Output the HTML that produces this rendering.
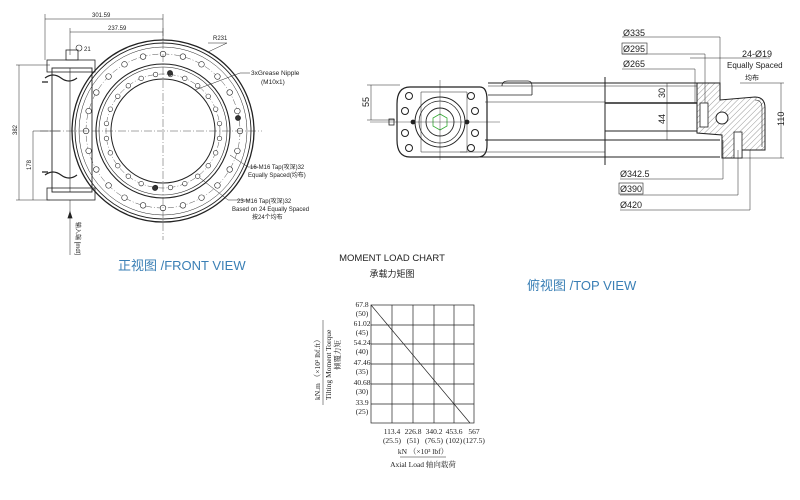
<!DOCTYPE html>
<html><head><meta charset="utf-8"><style>
html,body{margin:0;padding:0;background:#fff;}
svg{display:block;}
text{font-family:"Liberation Sans","Noto Sans CJK SC",sans-serif;fill:#222;}
text.s,.s text{font-family:"Liberation Serif","Noto Serif CJK SC",serif;}
.b{fill:#3a7fb5;}
</style></head><body>
<svg id="g" width="800" height="500" viewBox="0 0 800 500" xmlns="http://www.w3.org/2000/svg" stroke="#222" fill="none" stroke-width="0.8">
<g>
  <line x1="45" y1="14" x2="45" y2="60" stroke-width="0.5"/>
  <line x1="70" y1="28" x2="70" y2="55" stroke-width="0.5"/>
  <line x1="163" y1="14" x2="163" y2="40" stroke-width="0.5"/>
  <line x1="45" y1="19" x2="163" y2="19" stroke-width="0.5"/>
  <line x1="70" y1="32" x2="163" y2="32" stroke-width="0.5"/>
  <text x="92" y="17" font-size="6" stroke="none">301.59</text>
  <text x="108" y="30" font-size="6" stroke="none">237.59</text>
  <circle cx="79" cy="48" r="3" stroke-width="0.6"/>
  <text x="84" y="51" font-size="6" stroke="none">21</text>
  <line x1="16" y1="65" x2="50" y2="65" stroke-width="0.5"/>
  <line x1="16" y1="200" x2="50" y2="200" stroke-width="0.5"/>
  <line x1="19" y1="65" x2="19" y2="200" stroke-width="0.5"/>
  <line x1="33" y1="131" x2="60" y2="131" stroke-width="0.5"/>
  <line x1="33" y1="131" x2="33" y2="200" stroke-width="0.5"/>
  <text transform="translate(17,135) rotate(-90)" font-size="6" stroke="none">382</text>
  <text transform="translate(31,170) rotate(-90)" font-size="6" stroke="none">178</text>
  <rect x="52" y="68" width="40" height="124" stroke-width="0.9"/>
  <line x1="70" y1="68" x2="70" y2="192" stroke-width="0.6"/>
  <rect x="47" y="60" width="48" height="12"/>
  <rect x="47" y="188" width="48" height="12"/>
  <rect x="66" y="50" width="12" height="10"/>
  <path d="M45 78 q8 -6 16 0 q8 6 16 0 M45 175 q8 -6 16 0 q8 6 16 0" stroke-width="1.1"/>
  <path d="M42 82 l6 0 M42 172 l6 0" stroke-width="1.2"/>
  <line x1="70" y1="200" x2="70" y2="255" stroke-width="0.5"/>
  <path d="M70 212 l-2 6 l4 0 z" fill="#222"/>
  <text transform="translate(76,222) rotate(90)" font-size="6" stroke="none">输入端 [mdt]</text>
  <circle cx="163" cy="131" r="91" stroke-width="1.3"/>
  <circle cx="163" cy="131" r="88" stroke-width="0.9"/>
  <circle cx="163" cy="131" r="84" stroke-width="0.5"/>
  <circle cx="163" cy="131" r="77" stroke-width="0.4" stroke-dasharray="6 2 1 2"/>
  <circle cx="163" cy="131" r="67" stroke-width="1.1"/>
  <circle cx="163" cy="131" r="64" stroke-width="0.6"/>
  <circle cx="163" cy="131" r="57" stroke-width="0.4" stroke-dasharray="6 2 1 2"/>
  <circle cx="163" cy="131" r="52" stroke-width="1"/>
  <g id="bolts" stroke-width="0.6"></g>
  <line x1="163" y1="28" x2="163" y2="240" stroke-width="0.4" stroke-dasharray="8 2 1 2"/>
  <line x1="40" y1="131" x2="262" y2="131" stroke-width="0.4" stroke-dasharray="8 2 1 2"/>
  <circle cx="170" cy="73" r="2.5" fill="#333"/>
  <circle cx="238" cy="118" r="2.5" fill="#333"/>
  <circle cx="155" cy="188" r="2.5" fill="#333"/>
  <polyline points="208,43 227,43 208,52" stroke-width="0.5"/>
  <text x="213" y="40" font-size="6" stroke="none">R231</text>
  <polyline points="195,90 240,73 250,73" stroke-width="0.5"/>
  <text x="251" y="75" font-size="6.5" stroke="none">3xGrease Nipple</text>
  <text x="261" y="84" font-size="6.5" stroke="none">(M10x1)</text>
  <polyline points="230,155 248,167 258,167" stroke-width="0.5"/>
  <text x="250" y="169" font-size="6" stroke="none">16-M16 Tap(攻深)32</text>
  <text x="248" y="177" font-size="6" stroke="none">Equally Spaced(均布)</text>
  <polyline points="200,178 228,200 250,200" stroke-width="0.5"/>
  <text x="237" y="203" font-size="6" stroke="none">23-M16 Tap(攻深)32</text>
  <text x="232" y="211" font-size="6" stroke="none">Based on 24 Equally Spaced</text>
  <text x="252" y="219" font-size="6" stroke="none">按24个均布</text>
  <text x="118" y="270" font-size="13" class="b" stroke="none">正视图 /FRONT VIEW</text>
</g>

<g>
  <line x1="488" y1="83" x2="697" y2="83" stroke-width="1"/>
  <line x1="488" y1="86" x2="697" y2="86" stroke-width="0.5"/>
  <line x1="605" y1="103" x2="697" y2="103" stroke-width="1.5"/>
  <line x1="485" y1="102" x2="605" y2="102" stroke-width="0.5"/>
  <line x1="605" y1="131" x2="697" y2="131" stroke-width="1.1"/>
  <line x1="485" y1="140" x2="720" y2="140" stroke-width="1"/>
  <line x1="460" y1="152" x2="605" y2="152" stroke-width="0.5"/>
  <line x1="460" y1="157" x2="720" y2="157" stroke-width="1"/>
  <line x1="605" y1="77" x2="605" y2="165" stroke-width="1"/>
  <path d="M502 86 q0 -5 6 -5 l20 0 q4 0 4 5 l0 9 M488 95 l44 0" stroke-width="0.8"/>
  <path d="M410 87 L480 87 Q487 87 487 100 L487 145 Q487 157 478 157 L410 157 Q397 157 397 140 L397 104 Q397 87 410 87 Z" stroke-width="1.2"/>
  <path d="M421 92 L467 92 L467 152 L421 152 Z" stroke-width="0.5"/>
  <circle cx="440" cy="122" r="25" stroke-width="1"/>
  <circle cx="440" cy="122" r="21" stroke-width="0.7"/>
  <circle cx="440" cy="122" r="14" stroke-width="0.9"/>
  <polygon points="440,114 447,118 447,126 440,130 433,126 433,118" stroke="#3a3" stroke-width="0.8"/>
  <g stroke-width="1"><circle cx="409" cy="96" r="3.5"/><circle cx="405" cy="111" r="3.5"/><circle cx="405" cy="133" r="3.5"/><circle cx="409" cy="148" r="3.5"/><circle cx="471" cy="96" r="3.5"/><circle cx="475" cy="111" r="3.5"/><circle cx="475" cy="133" r="3.5"/><circle cx="471" cy="148" r="3.5"/></g>
  <circle cx="413" cy="122" r="2" fill="#222"/><circle cx="467" cy="122" r="2" fill="#222"/>
  <line x1="440" y1="80" x2="440" y2="160" stroke-width="0.4"/>
  <line x1="370" y1="122" x2="500" y2="122" stroke-width="0.4"/>
  <rect x="389" y="119" width="5" height="6" stroke-width="0.8"/>
  <defs><pattern id="h" width="4" height="4" patternUnits="userSpaceOnUse" patternTransform="rotate(45)"><line x1="0" y1="0" x2="0" y2="4" stroke="#555" stroke-width="0.6"/></pattern></defs>
  <path d="M697 83 L720 83 L720 100 L755 97 Q765 97 765 108 L765 150 L742 150 L742 158 L722 158 L722 135 L697 133 Z" stroke-width="1" fill="url(#h)"/>
  <circle cx="722" cy="118" r="6" fill="#fff" stroke-width="1"/>
  <rect x="700" y="103" width="8" height="24" fill="#fff"/>
  <rect x="734" y="132" width="8" height="26" fill="#fff"/>
  <path d="M755 100 Q762 100 762 108 L762 147" stroke-width="0.6"/>
  <g stroke-width="0.5">
  <line x1="622" y1="37" x2="720" y2="37"/><line x1="720" y1="37" x2="720" y2="83"/>
  <line x1="622" y1="54" x2="705" y2="54"/><line x1="705" y1="54" x2="705" y2="103"/>
  <line x1="622" y1="69" x2="695" y2="69"/><line x1="695" y1="69" x2="695" y2="103"/>
  <line x1="690" y1="58" x2="770" y2="58"/>
  <line x1="620" y1="179" x2="723" y2="179"/><line x1="723" y1="179" x2="723" y2="140"/>
  <line x1="620" y1="195" x2="738" y2="195"/><line x1="738" y1="195" x2="738" y2="150"/>
  <line x1="620" y1="210" x2="750" y2="210"/><line x1="750" y1="210" x2="750" y2="150"/>
  <line x1="740" y1="83" x2="784" y2="83"/><line x1="740" y1="158" x2="784" y2="158"/><line x1="781" y1="83" x2="781" y2="158"/>
  <line x1="367" y1="85" x2="400" y2="85"/><line x1="367" y1="120" x2="395" y2="120"/><line x1="371" y1="85" x2="371" y2="120"/>
  <line x1="667" y1="83" x2="667" y2="140"/>
  </g>
  <text x="623" y="36" font-size="9" stroke="none">Ø335</text>
  <rect x="622" y="43" width="25" height="11" stroke-width="0.6"/>
  <text x="623" y="52" font-size="9" stroke="none">Ø295</text>
  <text x="623" y="67" font-size="9" stroke="none">Ø265</text>
  <text x="742" y="57" font-size="9" stroke="none">24-Ø19</text>
  <text x="727" y="68" font-size="8" stroke="none">Equally Spaced</text>
  <text x="745" y="80" font-size="7" stroke="none" fill="#555">均布</text>
  <text x="620" y="177" font-size="9" stroke="none">Ø342.5</text>
  <rect x="619" y="183" width="24" height="11" stroke-width="0.6"/>
  <text x="620" y="192" font-size="9" stroke="none">Ø390</text>
  <text x="620" y="208" font-size="9" stroke="none">Ø420</text>
  <text transform="translate(784,126) rotate(-90)" font-size="9" stroke="none">110</text>
  <text transform="translate(369,107) rotate(-90)" font-size="9" stroke="none">55</text>
  <text transform="translate(665,98) rotate(-90)" font-size="9" stroke="none">30</text>
  <text transform="translate(665,124) rotate(-90)" font-size="9" stroke="none">44</text>
  <text x="527" y="290" font-size="13" class="b" stroke="none">俯视图 /TOP VIEW</text>
</g>

<g>
  <text x="392" y="261" font-size="9.5" text-anchor="middle" stroke="none" fill="#444">MOMENT LOAD CHART</text>
  <text x="392" y="277" font-size="9" text-anchor="middle" stroke="none" fill="#444">承载力矩图</text>
  <g stroke-width="0.7">
  <rect x="371" y="305" width="103" height="118"/>
  <line x1="392" y1="305" x2="392" y2="423"/><line x1="413" y1="305" x2="413" y2="423"/><line x1="434" y1="305" x2="434" y2="423"/><line x1="454" y1="305" x2="454" y2="423"/>
  <line x1="371" y1="325" x2="474" y2="325"/><line x1="371" y1="344" x2="474" y2="344"/><line x1="371" y1="364" x2="474" y2="364"/><line x1="371" y1="384" x2="474" y2="384"/><line x1="371" y1="404" x2="474" y2="404"/>
  <line x1="371" y1="305" x2="470" y2="423"/>
  </g>
  <g class="s" font-size="7.5" stroke="none" text-anchor="middle">
  <text x="362" y="307">67.8</text><text x="362" y="316">(50)</text>
  <text x="362" y="326">61.02</text><text x="362" y="335">(45)</text>
  <text x="362" y="345">54.24</text><text x="362" y="354">(40)</text>
  <text x="362" y="365">47.46</text><text x="362" y="374">(35)</text>
  <text x="362" y="385">40.68</text><text x="362" y="394">(30)</text>
  <text x="362" y="405">33.9</text><text x="362" y="414">(25)</text>
  <text x="392" y="434">113.4</text><text x="392" y="443">(25.5)</text>
  <text x="413" y="434">226.8</text><text x="413" y="443">(51)</text>
  <text x="434" y="434">340.2</text><text x="434" y="443">(76.5)</text>
  <text x="454" y="434">453.6</text><text x="454" y="443">(102)</text>
  <text x="474" y="434">567</text><text x="474" y="443">(127.5)</text>
  <text x="423" y="454">kN （×10³ lbf）</text>
  <text x="423" y="467">Axial Load 轴向载荷</text>
  </g>
  <line x1="400" y1="457" x2="446" y2="457" stroke-width="0.5"/>
  <text class="s" transform="translate(320,400) rotate(-90)" font-size="7.5" stroke="none">kN.m （×10³ lbf.ft）</text>
  <line x1="323" y1="320" x2="323" y2="405" stroke-width="0.5"/>
  <text class="s" transform="translate(331,400) rotate(-90)" font-size="7.5" stroke="none">Tilting Moment Torque</text>
  <text class="s" transform="translate(340,370) rotate(-90)" font-size="7.5" stroke="none">倾覆力矩</text>
</g>
</svg>
<script>
var g=document.getElementById('bolts'),ns='http://www.w3.org/2000/svg';
function add(r,n,rad,off){for(var i=0;i<n;i++){var a=(i+off)/n*2*Math.PI;var c=document.createElementNS(ns,'circle');c.setAttribute('cx',163+r*Math.cos(a));c.setAttribute('cy',131+r*Math.sin(a));c.setAttribute('r',rad);c.setAttribute('fill','#fff');g.appendChild(c);}}
add(77,24,2.8,0);add(57,24,2.3,0.5);
</script>
</body></html>
